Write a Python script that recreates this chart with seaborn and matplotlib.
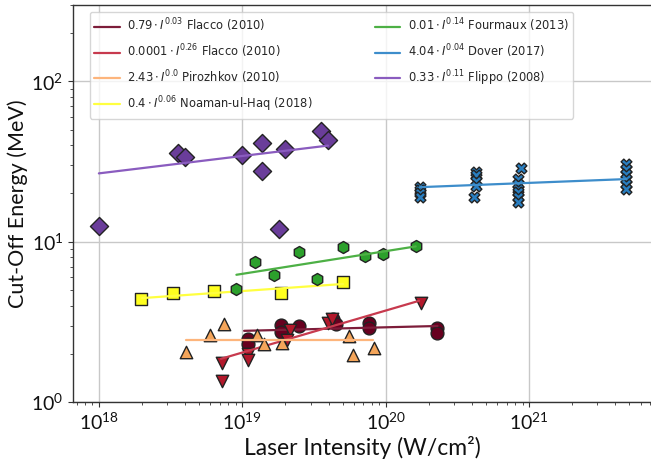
import numpy as np
import matplotlib.pyplot as plt
import seaborn as sns
from matplotlib.font_manager import FontProperties

# Values: laser intensity (W/cm^2) vs cut-off energy (MeV)
flacco1_I = [1.10e19, 1.10e19, 1.85e19, 1.85e19, 2.48e19, 4.29e19, 4.53e19, 7.65e19, 7.65e19, 2.28e20, 2.28e20]
flacco1_E = [2.47, 2.29, 3.02, 2.75, 2.99, 3.29, 3.06, 3.09, 2.91, 2.91, 2.71]

flacco2_I = [7.23e18, 7.23e18, 1.09e19, 1.09e19, 2.14e19, 2.05e19, 3.96e19, 4.25e19, 1.75e20]
flacco2_E = [1.74, 1.35, 1.99, 1.82, 2.81, 2.43, 3.09, 3.29, 4.12]

pirozhkov_I = [7.43e18, 5.94e18, 4.08e18, 1.26e19, 1.42e19, 1.88e19, 5.55e19, 5.92e19, 8.28e19]
pirozhkov_E = [3.06, 2.61, 2.06, 2.61, 2.29, 2.35, 2.59, 1.97, 2.17]

noaman_I = [1.98e18, 3.30e18, 6.40e18, 1.86e19, 5.04e19]
noaman_E = [4.38, 4.80, 4.94, 4.80, 5.57]

fourmaux_I = [1.22e19, 2.48e19, 5.04e19, 1.67e19, 7.14e19, 9.64e19, 1.62e20, 3.31e19, 9.11e18]
fourmaux_E = [7.43, 8.62, 9.21, 6.22, 8.14, 8.38, 9.35, 5.85, 5.09]

dover_I = [1.73e20, 1.73e20, 1.73e20, 1.73e20,
           4.29e20, 4.29e20, 4.29e20, 4.29e20, 4.12e20,
           8.36e20, 8.36e20, 8.36e20, 8.36e20, 8.36e20, 8.36e20, 8.83e20,
           4.76e21, 4.76e21, 4.76e21, 4.76e21, 4.76e21, 4.76e21]
dover_E = [22.0, 21.0, 20.0, 18.9,
           27.1, 25.9, 24.1, 22.4, 18.9,
           24.6, 22.9, 21.4, 20.3, 18.9, 17.6, 28.7,
           30.6, 28.5, 26.5, 24.6, 22.9, 21.4]

flippo_I = [1.0e18, 3.54e18, 3.98e18, 9.97e18, 1.38e19, 1.38e19, 1.98e19, 3.52e19, 3.96e19, 1.80e19]
flippo_E = [12.5, 36.0, 33.6, 34.8, 41.2, 27.8, 38.0, 49.4, 43.4, 12.0]

# power-law fit lines (end points)
flacco1_fit_I, flacco1_fit_E = [1.03e19, 2.3e20], [2.78, 2.98]
flacco2_fit_I, flacco2_fit_E = [7.1e18, 1.71e20], [1.86, 4.28]
pirozhkov_fit_I, pirozhkov_fit_E = [4.03e18, 8.2e19], [2.45, 2.45]
noaman_fit_I, noaman_fit_E = [2.0e18, 5.04e19], [4.45, 5.45]
fourmaux_fit_I, fourmaux_fit_E = [9.1e18, 1.62e20], [6.22, 9.35]
dover_fit_I, dover_fit_E = [1.73e20, 4.76e21], [21.9, 24.6]
flippo_fit_I, flippo_fit_E = [1.0e18, 3.96e19], [26.7, 39.8]

labels = [r"$0.79\cdot I^{0.03}$ Flacco (2010)",
          r"$0.0001\cdot I^{0.26}$ Flacco (2010)",
          r"$2.43\cdot I^{0.0}$ Pirozhkov (2010)",
          r"$0.4\cdot I^{0.06}$ Noaman-ul-Haq (2018)",
          r"$0.01\cdot I^{0.14}$ Fourmaux (2013)",
          r"$4.04\cdot I^{0.04}$ Dover (2017)",
          r"$0.33\cdot I^{0.11}$ Flippo (2008)"]

series = [
    (flacco1_I, flacco1_E, flacco1_fit_I, flacco1_fit_E, "o", 85, "#67001f", "#7d1d3a"),
    (flacco2_I, flacco2_E, flacco2_fit_I, flacco2_fit_E, "v", 80, "#b2182b", "#c73a4e"),
    (pirozhkov_I, pirozhkov_E, pirozhkov_fit_I, pirozhkov_fit_E, "^", 80, "#f4a55a", "#fdb57c"),
    (noaman_I, noaman_E, noaman_fit_I, noaman_fit_E, "s", 80, "#ffff1f", "#ffff40"),
    (fourmaux_I, fourmaux_E, fourmaux_fit_I, fourmaux_fit_E, "h", 75, "#2ca02c", "#4db045"),
    (dover_I, dover_E, dover_fit_I, dover_fit_E, "X", 60, "#2a7fc1", "#3d8dcb"),
    (flippo_I, flippo_E, flippo_fit_I, flippo_fit_E, "D", 85, "#6a3d9a", "#8a5cbf"),
]

sns.set_style("ticks")
plt.rcParams["font.family"] = ["Lato", "DejaVu Sans"]
plt.rcParams["mathtext.fontset"] = "custom"
plt.rcParams["mathtext.rm"] = "Lato"
plt.rcParams["mathtext.it"] = "Lato:italic"
plt.rcParams["mathtext.bf"] = "Lato:bold"

fig = plt.figure(figsize=(6.51, 4.68), dpi=100)
ax = fig.add_axes([73 / 651, 1 - 402 / 468, 579 / 651, 397 / 468])

for (xs, ys, fx, fy, m, sz, c, lc), lab in zip(series, labels):
    sns.scatterplot(x=xs, y=ys, marker=m, s=sz, color=c, edgecolor="#222222",
                    linewidth=1, ax=ax, zorder=3, legend=False)
    sns.lineplot(x=fx, y=fy, color=lc, linewidth=1.6, label=lab, ax=ax, zorder=3)

ax.set_xscale("log")
ax.set_yscale("log")
ax.set_xlim(6.6e17, 7.2e21)
ax.set_ylim(1, 300)
ax.grid(True, which="major", color="#c8c8c8", linewidth=1)
ax.set_axisbelow(True)
for sp in ax.spines.values():
    sp.set_color("#333333")
    sp.set_linewidth(1)
ax.tick_params(which="both", direction="out", colors="#333333", labelcolor="#111111",
               labelsize=14)

ax.set_xlabel("Laser Intensity (W/cm²)", fontsize=16.5, color="#111111", labelpad=2)
ax.set_ylabel("Cut-Off Energy (MeV)", fontsize=15.5, color="#111111", labelpad=2)

leg_font = FontProperties(family="DejaVu Sans", size=8.3, math_fontfamily="dejavusans")
ax.legend(loc="upper left", bbox_to_anchor=(0.029, 0.982), borderaxespad=0, ncol=2,
          prop=leg_font, labelspacing=0.72, columnspacing=5.4, handlelength=2.2,
          handletextpad=0.65, borderpad=0.4, frameon=True, framealpha=0.8,
          edgecolor="#cccccc")

fig.savefig("out.png", dpi=100)
